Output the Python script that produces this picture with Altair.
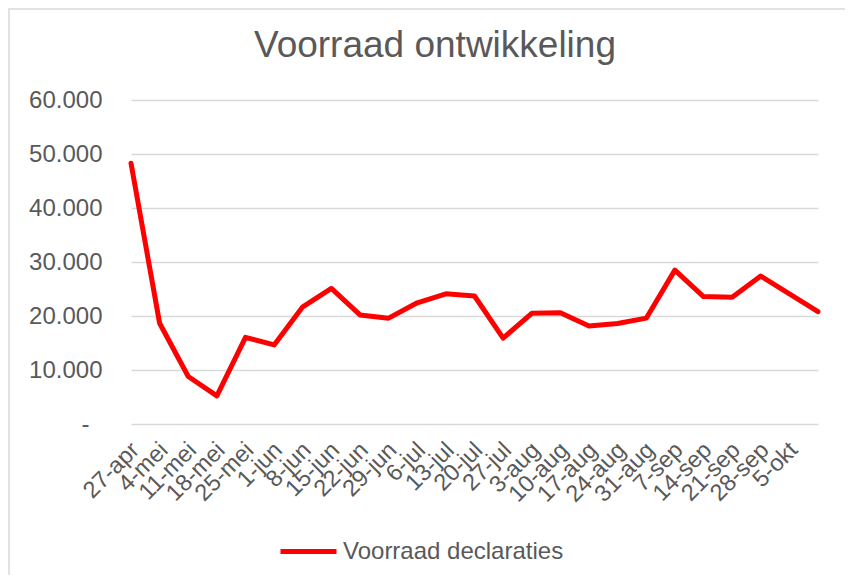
import altair as alt
import pandas as pd

labels = ["27-apr", "4-mei", "11-mei", "18-mei", "25-mei", "1-jun", "8-jun", "15-jun",
          "22-jun", "29-jun", "6-jul", "13-jul", "20-jul", "27-jul", "3-aug", "10-aug",
          "17-aug", "24-aug", "31-aug", "7-sep", "14-sep", "21-sep", "28-sep", "5-okt"]
values = [48300, 18650, 8800, 5200, 16050, 14650, 21700, 25100, 20200, 19600,
          22450, 24100, 23700, 15900, 20500, 20600, 18150, 18600, 19600, 28500,
          23600, 23450, 27400, 24100, 20800]
series_name = "Voorraad declaraties"
title_text = "Voorraad ontwikkeling"
y_ticks = [0, 10000, 20000, 30000, 40000, 50000, 60000]

df = pd.DataFrame({
    "idx": list(range(len(values))),
    "value": values,
    "serie": [series_name] * len(values),
})
title_df = pd.DataFrame({"t": [title_text]})

GRAY = "#595959"
FONT = "Liberation Sans"

label_array = "[" + ",".join("'" + l + "'" for l in labels) + "]"

x_axis = alt.Axis(
    values=list(range(len(labels))),
    labelExpr=label_array + "[datum.value]",
    labelAngle=-45, labelAlign="right", labelBaseline="middle",
    labelPadding=22, labelOffset=4, labelOverlap=False, labelFlush=False,
    labelFontSize=23.5, labelColor=GRAY, labelFont=FONT,
    grid=False, ticks=False, domain=False, title=None,
)
y_axis = alt.Axis(
    values=y_ticks,
    labelExpr="datum.value == 0 ? '-' : replace(format(datum.value, ','), ',', '.')",
    labelFontSize=24, labelColor=GRAY, labelFont=FONT,
    labelPadding={"condition": {"test": "datum.value == 0", "value": 42}, "value": 29},
    grid=True, gridColor="#d9d9d9", gridWidth=1.5,
    ticks=False, domain=False, title=None,
)

line = alt.Chart(df).mark_line(strokeWidth=5, strokeCap="round", strokeJoin="round").encode(
    x=alt.X("idx:Q", scale=alt.Scale(domain=[0, len(values) - 1], nice=False, zero=False), axis=x_axis),
    y=alt.Y("value:Q", scale=alt.Scale(domain=[0, 60000], nice=False), axis=y_axis),
    color=alt.Color(
        "serie:N",
        scale=alt.Scale(domain=[series_name], range=["#ff0000"]),
        legend=alt.Legend(
            orient="none", legendX=147, legendY=421, title=None,
            symbolType="stroke", symbolSize=3136, symbolStrokeWidth=5,
            labelFontSize=24, labelColor=GRAY, labelFont=FONT, labelOffset=4,
            labelLimit=500,
        ),
    ),
)

title = alt.Chart(title_df).mark_text(
    fontSize=37, font=FONT, color=GRAY, align="center", baseline="alphabetic"
).encode(text="t:N", x=alt.value(304), y=alt.value(-43))

border = alt.Chart(title_df).mark_rect(fill=None, stroke="#d9d9d9", strokeWidth=1.5).encode(
    x=alt.value(-122), x2=alt.value(740), y=alt.value(-91), y2=alt.value(520)
)

chart = alt.layer(border, title, line).properties(
    width=687, height=324,
    autosize=alt.AutoSizeParams(type="none"),
    padding={"left": 123, "top": 92, "right": 27, "bottom": 151},
).configure(font=FONT, view=alt.ViewConfig(stroke=None))

chart.save("out.html", embed_options={"renderer": "svg", "actions": False})
